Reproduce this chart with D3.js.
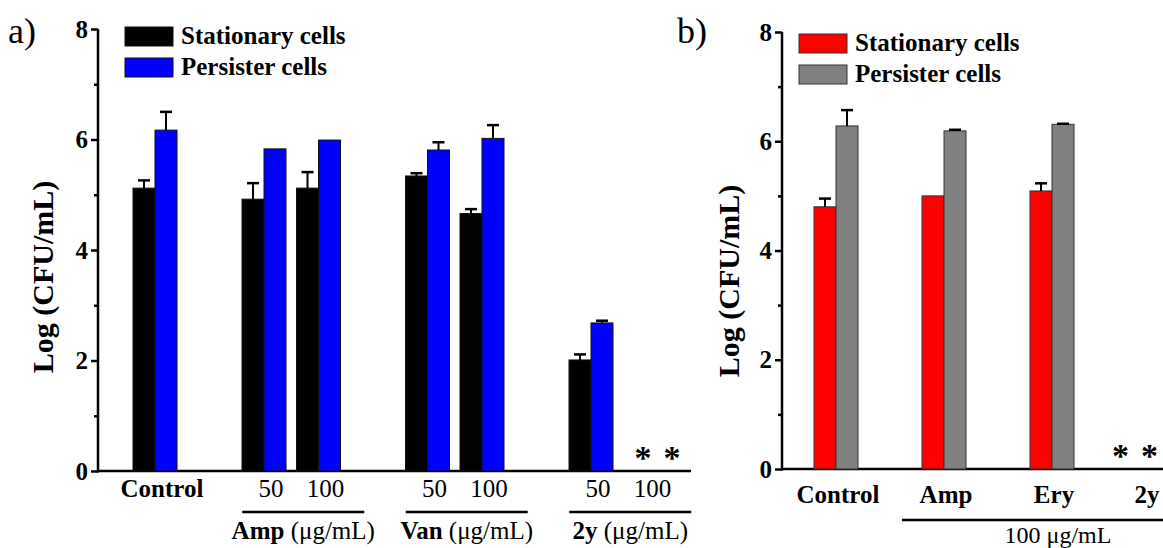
<!DOCTYPE html>
<html>
<head>
<meta charset="utf-8">
<script src="https://d3js.org/d3.v7.min.js"></script>
<style>
  body { margin: 0; background: #fff; }
  text { font-family: "Liberation Serif", "Times New Roman", serif; }
</style>
</head>
<body>
<script>
// panel a
var catsA = ["Control", "50", "100", "50", "100", "50", "100"];
var catBoldA = [true, false, false, false, false, false, false];
var slotsA = [0, 2, 3, 5, 6, 8, 9];
var statA = [5.12, 4.92, 5.12, 5.34, 4.66, 2.01, 0];
var statErrA = [0.14, 0.29, 0.29, 0.05, 0.08, 0.10, 0];
var persA = [6.17, 5.83, 5.99, 5.81, 6.02, 2.68, 0];
var persErrA = [0.33, 0, 0, 0.14, 0.24, 0.04, 0];
var detectedA = [1, 1, 1, 1, 1, 1, 0];
var groupNamesA = ["Amp", "Van", "2y"];
var groupSpanA = [[1, 2], [3, 4], [5, 6]];

// panel b
var catsB = ["Control", "Amp", "Ery", "2y"];
var slotsB = [0, 1, 2, 2.86];
var statB = [4.80, 5.00, 5.09, 0];
var statErrB = [0.15, 0, 0.14, 0];
var persB = [6.28, 6.19, 6.31, 0];
var persErrB = [0.29, 0.02, 0.01, 0];
var detectedB = [1, 1, 1, 0];

var seriesNames = ["Stationary cells", "Persister cells"];
var yTicks = [0, 2, 4, 6, 8];

var W = 1163, H = 548;
var svg = d3.select("body").append("svg").attr("width", W).attr("height", H);

function drawPanel(o) {
  var g = svg.append("g");
  var y = d3.scaleLinear().domain([0, 8]).range([o.y0, o.y8]);
  var x = d3.scaleLinear().domain(o.slotDomain).range(o.slotRange);
  var bw = 22;

  // axes
  var ax = d3.axisLeft(y).tickValues(yTicks).tickSize(7).tickFormat(d3.format("d"));
  var axG = g.append("g").attr("transform", "translate(" + o.axisX + ",0)").call(ax);
  axG.select(".domain").remove();
  axG.selectAll(".tick line").attr("stroke", "#000").attr("stroke-width", 2.5);
  axG.selectAll(".tick text").attr("font-size", 25).attr("font-weight", "bold")
     .attr("fill", "#000").attr("x", -10).attr("font-family", "Liberation Serif");
  var minor = d3.axisLeft(y).tickValues([1, 3, 5, 7]).tickSize(4).tickFormat("");
  var mG = g.append("g").attr("transform", "translate(" + o.axisX + ",0)").call(minor);
  mG.select(".domain").remove();
  mG.selectAll(".tick line").attr("stroke", "#000").attr("stroke-width", 2.5);

  g.append("line").attr("x1", o.axisX).attr("x2", o.axisX)
    .attr("y1", y(8)).attr("y2", y(0) + 1.5).attr("stroke", "#000").attr("stroke-width", 2.5);
  g.append("line").attr("x1", o.axisX - 1).attr("x2", o.axisEnd)
    .attr("y1", y(0)).attr("y2", y(0)).attr("stroke", "#000").attr("stroke-width", 2.5);

  var idx = d3.range(o.cats.length);

  // bars
  [[o.stat, o.statErr, o.c1, -bw, -1], [o.pers, o.persErr, o.c2, 0, 1]].forEach(function (s) {
    var vals = s[0], errs = s[1], col = s[2], off = s[3], side = s[4];
    var det = idx.filter(function (i) { return o.detected[i]; });
    g.selectAll(null).data(det).enter().append("rect")
      .attr("x", function (i) { return x(o.slots[i]) + off; })
      .attr("width", bw)
      .attr("y", function (i) { return y(vals[i]); })
      .attr("height", function (i) { return y(0) - y(vals[i]); })
      .attr("fill", col).attr("stroke", o.stroke).attr("stroke-width", 1);
    var eb = det.filter(function (i) { return errs[i] > 0; });
    g.selectAll(null).data(eb).enter().append("line")
      .attr("x1", function (i) { return x(o.slots[i]) + off + bw / 2; })
      .attr("x2", function (i) { return x(o.slots[i]) + off + bw / 2; })
      .attr("y1", function (i) { return y(vals[i]); })
      .attr("y2", function (i) { return y(vals[i] + errs[i]); })
      .attr("stroke", "#000").attr("stroke-width", 2);
    g.selectAll(null).data(eb).enter().append("line")
      .attr("x1", function (i) { return x(o.slots[i]) + off + bw / 2 - 6; })
      .attr("x2", function (i) { return x(o.slots[i]) + off + bw / 2 + 6; })
      .attr("y1", function (i) { return y(vals[i] + errs[i]); })
      .attr("y2", function (i) { return y(vals[i] + errs[i]); })
      .attr("stroke", "#000").attr("stroke-width", 2.5);
    // asterisks for undetected
    var nd = idx.filter(function (i) { return !o.detected[i]; });
    g.selectAll(null).data(nd).enter().append("text")
      .attr("x", function (i) { return x(o.slots[i]) + side * 14.5 + o.starShift; })
      .attr("y", y(0) - 2)
      .attr("text-anchor", "middle").attr("font-size", 34).attr("font-weight", "bold")
      .text("*");
  });

  // category labels
  g.selectAll(null).data(idx).enter().append("text")
    .attr("x", function (i) { return x(o.slots[i]) + o.labelShift; })
    .attr("y", o.labelY)
    .attr("text-anchor", "middle").attr("font-size", 25)
    .attr("font-weight", function (i) { return o.catBold[i] ? "bold" : "normal"; })
    .text(function (i) { return o.cats[i]; });

  // y label
  g.append("text")
    .attr("transform", "translate(" + o.yLabX + "," + o.yLabY + ") rotate(-90)")
    .attr("text-anchor", "middle").attr("font-size", 30).attr("font-weight", "bold")
    .text("Log (CFU/mL)");

  // panel letter
  g.append("text").attr("x", o.letterX).attr("y", 43).attr("font-size", 36).text(o.letter);

  // legend
  [o.c1, o.c2].forEach(function (c, k) {
    g.append("rect").attr("x", o.legX).attr("y", o.legY + k * 31).attr("width", 48).attr("height", 19)
      .attr("fill", c).attr("stroke", o.stroke).attr("stroke-width", 1);
    g.append("text").attr("x", o.legX + 56).attr("y", o.legY + k * 31 + 17)
      .attr("font-size", 25).attr("font-weight", "bold").text(seriesNames[k]);
  });
  return { x: x, y: y, g: g };
}

var pa = drawPanel({
  cats: catsA, catBold: catBoldA, slots: slotsA, stat: statA, statErr: statErrA,
  pers: persA, persErr: persErrA, detected: detectedA,
  slotDomain: [0, 9], slotRange: [155, 645.5], y0: 471, y8: 29,
  axisX: 98, axisEnd: 691, c1: "#000000", c2: "#0000ff", stroke: "#111",
  labelY: 497, labelShift: 7, starShift: 12, yLabX: 53, yLabY: 277,
  letter: "a)", letterX: 8, legX: 125, legY: 27
});

// group underlines and labels in panel a
groupNamesA.forEach(function (name, k) {
  var s = groupSpanA[k];
  var cx = (pa.x(slotsA[s[0]]) + pa.x(slotsA[s[1]])) / 2 + 12;
  pa.g.append("line").attr("x1", cx - 61).attr("x2", cx + 61).attr("y1", 512).attr("y2", 512)
    .attr("stroke", "#000").attr("stroke-width", 2.5);
  var t = pa.g.append("text").attr("x", cx).attr("y", 539).attr("text-anchor", "middle").attr("font-size", 25);
  t.append("tspan").attr("font-weight", "bold").text(name);
  t.append("tspan").text(" (\u03bcg/mL)");
});

var pb = drawPanel({
  cats: catsB, catBold: [true, true, true, true], slots: slotsB, stat: statB, statErr: statErrB,
  pers: persB, persErr: persErrB, detected: detectedB,
  slotDomain: [0, 3], slotRange: [836, 1160], y0: 469, y8: 32,
  axisX: 782, axisEnd: 1163, c1: "#ff0000", c2: "#808080", stroke: "#333",
  labelY: 503, labelShift: 2, starShift: -10, yLabX: 739, yLabY: 281,
  letter: "b)", letterX: 677, legX: 799, legY: 34
});

pb.g.append("line").attr("x1", 902).attr("x2", 1163).attr("y1", 520).attr("y2", 520)
  .attr("stroke", "#000").attr("stroke-width", 2.5);
pb.g.append("text").attr("x", 1058).attr("y", 543).attr("text-anchor", "middle")
  .attr("font-size", 24).text("100 \u03bcg/mL");
</script>
</body>
</html>
